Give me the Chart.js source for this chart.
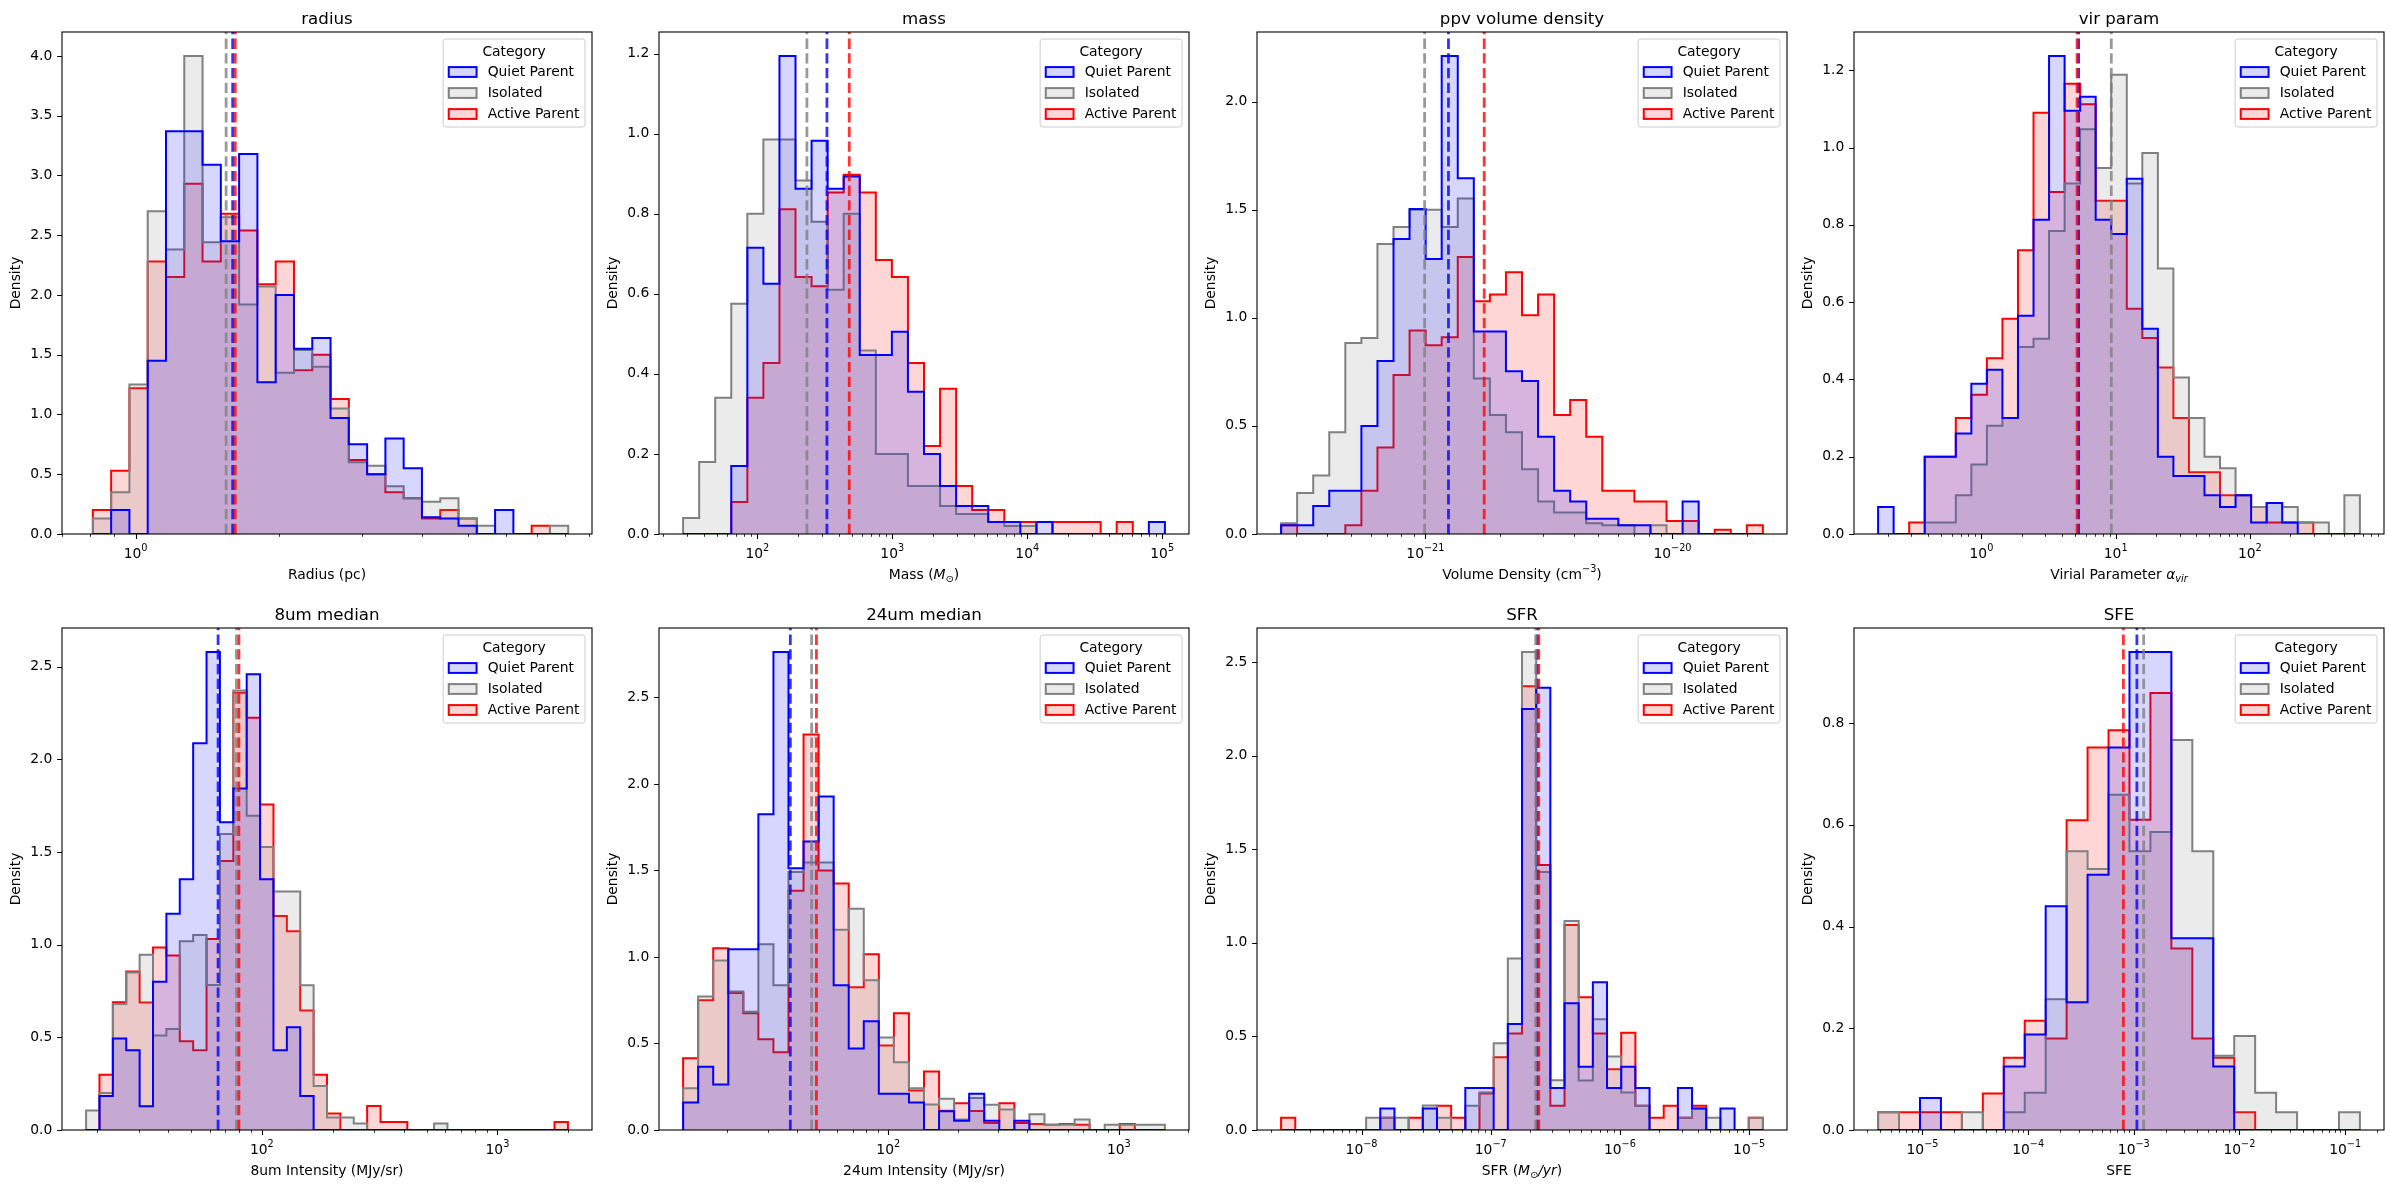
<!DOCTYPE html>
<html>
<head>
<meta charset="utf-8">
<title>Property distributions by category</title>
<script src="https://cdn.jsdelivr.net/npm/chart.js@4.4.1/dist/chart.umd.min.js"></script>
<style>
  html, body { margin: 0; padding: 0; background: #ffffff; }
  #figure { position: relative; width: 2390px; height: 1190px; overflow: hidden; background: #ffffff; }
  .panel { position: absolute; }
</style>
</head>
<body>
<div id="figure"></div>
<script>
Chart.defaults.font.family = '"DejaVu Sans", sans-serif';
Chart.defaults.font.size = 13.89;
Chart.defaults.color = "#000000";

const categories = ["Quiet Parent", "Isolated", "Active Parent"];
const lineColors = ["#0000ff", "#808080", "#ff0000"];
const fillColors = ["rgba(0,0,255,0.16)", "rgba(128,128,128,0.16)", "rgba(255,0,0,0.16)"];
const medianColors = ["rgba(0,0,255,0.8)", "rgba(128,128,128,0.8)", "rgba(255,0,0,0.8)"];

// each panel: log10 of the outer bin edges, density per bin (Quiet, Isolated, Active),
// medians (same order) and the powers of ten that get a tick label

// radius
const radiusBinRange = [-0.09, 0.91];
const radiusQuiet = [0, 0.2, 0, 1.45, 3.37, 3.37, 3.09, 2.45, 3.18, 1.27, 2.0, 1.55, 1.64, 0.97, 0.75, 0.5, 0.8, 0.55, 0.14, 0.13, 0.07, 0, 0.2, 0, 0, 0];
const radiusIsolated = [0.13, 0.35, 1.25, 2.7, 2.38, 4.0, 2.44, 2.65, 1.92, 2.07, 1.35, 1.54, 1.4, 1.05, 0.6, 0.57, 0.4, 0.3, 0.27, 0.3, 0.13, 0.07, 0, 0, 0, 0.07];
const radiusActive = [0.2, 0.53, 1.22, 2.28, 2.15, 2.93, 2.28, 2.68, 2.54, 2.09, 2.28, 1.37, 1.5, 1.13, 0.62, 0.5, 0.35, 0.3, 0.13, 0.2, 0.13, 0, 0, 0, 0.07, 0];
const radiusMedians = [1.60, 1.55, 1.62];
const radiusTicks = [0];

// mass
const massBinRange = [1.45, 5.02];
const massQuiet = [0, 0, 0, 0.17, 0.715, 0.625, 1.194, 0.862, 0.982, 0.862, 0.893, 0.447, 0.447, 0.505, 0.355, 0.2, 0.12, 0.07, 0.07, 0.03, 0.03, 0, 0.03, 0, 0, 0, 0, 0, 0, 0.03];
const massIsolated = [0.04, 0.18, 0.34, 0.575, 0.8, 0.985, 0.985, 0.883, 0.78, 0.61, 0.8, 0.458, 0.2, 0.2, 0.12, 0.12, 0.07, 0.05, 0.05, 0.03, 0.02, 0.02, 0, 0, 0, 0, 0, 0, 0, 0];
const massActive = [0, 0, 0, 0.08, 0.34, 0.427, 0.811, 0.642, 0.619, 0.853, 0.897, 0.853, 0.684, 0.642, 0.427, 0.22, 0.363, 0.12, 0.06, 0.06, 0.03, 0.03, 0, 0.03, 0.03, 0.03, 0, 0.03, 0, 0];
const massMedians = [328, 233, 480];
const massTicks = [2, 3, 4, 5];

// ppv volume density
const ppvBinRange = [-21.584, -19.634];
const ppvQuiet = [0.04, 0.04, 0.13, 0.2, 0.2, 0.5, 0.8, 1.364, 1.503, 1.272, 2.211, 1.645, 0.937, 0.937, 0.753, 0.707, 0.45, 0.2, 0.15, 0.07, 0.07, 0.04, 0.04, 0, 0, 0.15, 0, 0, 0, 0];
const ppvIsolated = [0.05, 0.19, 0.27, 0.47, 0.883, 0.907, 1.341, 1.42, 1.5, 1.5, 1.42, 1.552, 0.719, 0.55, 0.47, 0.3, 0.15, 0.1, 0.1, 0.05, 0.04, 0.04, 0, 0.04, 0, 0, 0, 0, 0, 0];
const ppvActive = [0.04, 0, 0, 0, 0.04, 0.2, 0.4, 0.735, 0.941, 0.873, 0.91, 1.281, 1.076, 1.108, 1.211, 1.012, 1.108, 0.55, 0.62, 0.45, 0.2, 0.2, 0.15, 0.15, 0.06, 0.06, 0, 0.02, 0, 0.04];
const ppvMedians = [1.24e-21, 9.93e-22, 1.73e-21];
const ppvTicks = [-21, -20];

// vir param
const virBinRange = [-0.77, 2.82];
const virQuiet = [0.07, 0, 0, 0.2, 0.2, 0.26, 0.389, 0.425, 0.3, 0.565, 0.813, 1.237, 1.095, 1.131, 0.813, 0.776, 0.919, 0.531, 0.2, 0.15, 0.15, 0.1, 0.07, 0.1, 0.03, 0.08, 0.03, 0, 0, 0, 0];
const virIsolated = [0, 0, 0, 0.03, 0.03, 0.1, 0.18, 0.28, 0.3, 0.484, 0.505, 0.784, 0.907, 1.047, 0.947, 1.188, 0.907, 0.986, 0.687, 0.405, 0.3, 0.2, 0.17, 0.1, 0.07, 0.08, 0.07, 0.03, 0.03, 0, 0.1];
const virActive = [0, 0, 0.03, 0.2, 0.2, 0.3, 0.36, 0.455, 0.557, 0.734, 1.09, 0.885, 1.165, 1.112, 0.862, 0.862, 0.583, 0.507, 0.431, 0.3, 0.16, 0.16, 0.1, 0.1, 0.07, 0.03, 0.03, 0.03, 0, 0, 0];
const virMedians = [5.3, 9.28, 5.16];
const virTicks = [0, 1, 2];

// 8um median
const um8BinRange = [1.254, 3.299];
const um8Quiet = [0, 0.184, 0.494, 0.43, 0.128, 0.8, 1.167, 1.353, 2.087, 2.58, 1.661, 1.843, 2.46, 1.353, 0.43, 0.554, 0.184, 0, 0, 0, 0, 0, 0, 0, 0, 0, 0, 0, 0, 0, 0, 0, 0, 0, 0, 0];
const um8Isolated = [0.105, 0.2, 0.68, 0.85, 0.946, 0.51, 0.545, 1.019, 1.052, 0.783, 1.597, 2.372, 1.696, 1.527, 1.287, 1.287, 0.781, 0.238, 0.068, 0.068, 0.035, 0, 0, 0, 0, 0, 0.035, 0, 0, 0, 0, 0, 0, 0, 0, 0];
const um8Active = [0, 0.298, 0.69, 0.855, 0.688, 0.985, 0.942, 0.479, 0.43, 1.031, 1.452, 2.36, 2.225, 1.756, 1.155, 1.072, 0.645, 0.298, 0.089, 0, 0, 0.13, 0.043, 0.043, 0, 0, 0, 0, 0, 0, 0, 0, 0, 0, 0, 0.043];
const um8Medians = [65.2, 78.0, 79.9];
const um8Ticks = [2, 3];

// 24um median
const um24BinRange = [1.11, 3.2];
const um24Quiet = [0.159, 0.365, 0.263, 1.044, 1.044, 1.825, 2.763, 1.513, 1.668, 1.927, 0.836, 0.471, 0.628, 0.21, 0.21, 0.159, 0, 0.108, 0.053, 0.21, 0.053, 0, 0.053, 0, 0, 0, 0, 0, 0, 0, 0, 0];
const um24Isolated = [0.241, 0.772, 0.98, 0.8, 0.684, 1.073, 0.836, 1.491, 1.546, 1.546, 1.157, 1.279, 0.865, 0.535, 0.392, 0.241, 0.148, 0.181, 0.06, 0.185, 0.146, 0.119, 0, 0.091, 0.03, 0.03, 0.06, 0, 0.03, 0.03, 0.03, 0.03];
const um24Active = [0.414, 0.75, 1.051, 0.792, 0.675, 0.524, 0.449, 1.383, 2.285, 1.5, 1.425, 0.825, 1.015, 0.489, 0.675, 0.228, 0.338, 0.111, 0.155, 0.11, 0.04, 0.155, 0.04, 0.035, 0.03, 0.035, 0.03, 0, 0, 0.035, 0, 0];
const um24Medians = [37.6, 46.5, 48.8];
const um24Ticks = [2, 3];

// SFR
const sfrBinRange = [-8.623, -4.893];
const sfrQuiet = [0, 0, 0, 0, 0, 0, 0, 0.115, 0, 0, 0.115, 0, 0, 0.225, 0.225, 0, 0.566, 2.25, 2.363, 0.225, 0.678, 0.338, 0.789, 0.225, 0.338, 0.225, 0, 0, 0.225, 0.115, 0, 0.115, 0, 0];
const sfrIsolated = [0, 0, 0, 0, 0, 0, 0.065, 0.065, 0.065, 0, 0.131, 0.065, 0, 0.13, 0.2, 0.463, 0.916, 2.555, 1.379, 0.266, 1.117, 0.264, 0.592, 0.393, 0.2, 0.13, 0, 0, 0.065, 0.115, 0.065, 0, 0, 0.065];
const sfrActive = [0.066, 0, 0, 0, 0, 0, 0, 0.065, 0, 0.065, 0, 0.13, 0.065, 0, 0.195, 0.389, 0.516, 2.371, 1.416, 0.13, 1.096, 0.709, 0.516, 0.324, 0.52, 0.13, 0.065, 0.13, 0.065, 0.13, 0, 0, 0, 0.065];
const sfrMedians = [2.29e-7, 2.23e-7, 2.355e-7];
const sfrTicks = [-8, -7, -6, -5];

// SFE
const sfeBinRange = [-5.42, -0.86];
const sfeQuiet = [0, 0, 0.063, 0, 0, 0, 0.125, 0.188, 0.44, 0.251, 0.502, 0.752, 0.94, 0.94, 0.377, 0.377, 0.125, 0, 0, 0, 0, 0, 0];
const sfeIsolated = [0.035, 0, 0, 0, 0.035, 0, 0.035, 0.073, 0.257, 0.548, 0.513, 0.659, 0.548, 0.586, 0.767, 0.548, 0.146, 0.185, 0.073, 0.035, 0, 0, 0.035];
const sfeActive = [0.035, 0.035, 0.035, 0.035, 0, 0.072, 0.142, 0.215, 0.18, 0.609, 0.752, 0.786, 0.61, 0.859, 0.357, 0.18, 0.142, 0.035, 0, 0, 0, 0, 0];
const sfeMedians = [1.07e-3, 1.24e-3, 7.97e-4];
const sfeTicks = [-5, -4, -3, -2, -1];

// axis labels as [text, style] runs: "it" italic, "sub"/"sup" scripts
const radiusLabel = [["Radius (pc)"]];
const massLabel = [["Mass ("], ["M", "it"], ["\u2299", "sub"], [")"]];
const ppvLabel = [["Volume Density (cm"], ["\u22123", "sup"], [")"]];
const virLabel = [["Virial Parameter "], ["\u03B1", "it"], ["vir", "itsub"]];
const um8Label = [["8um Intensity (MJy/sr)"]];
const um24Label = [["24um Intensity (MJy/sr)"]];
const sfrLabel = [["SFR ("], ["M", "it"], ["\u2299", "sub"], ["/yr", "it"], [")"]];
const sfeLabel = [["SFE"]];

const panels = [
  { title: "radius", xLabel: radiusLabel, range: radiusBinRange, series: [radiusQuiet, radiusIsolated, radiusActive], medians: radiusMedians, ticks: radiusTicks, yStep: 0.5 },
  { title: "mass", xLabel: massLabel, range: massBinRange, series: [massQuiet, massIsolated, massActive], medians: massMedians, ticks: massTicks, yStep: 0.2 },
  { title: "ppv volume density", xLabel: ppvLabel, range: ppvBinRange, series: [ppvQuiet, ppvIsolated, ppvActive], medians: ppvMedians, ticks: ppvTicks, yStep: 0.5 },
  { title: "vir param", xLabel: virLabel, range: virBinRange, series: [virQuiet, virIsolated, virActive], medians: virMedians, ticks: virTicks, yStep: 0.2 },
  { title: "8um median", xLabel: um8Label, range: um8BinRange, series: [um8Quiet, um8Isolated, um8Active], medians: um8Medians, ticks: um8Ticks, yStep: 0.5 },
  { title: "24um median", xLabel: um24Label, range: um24BinRange, series: [um24Quiet, um24Isolated, um24Active], medians: um24Medians, ticks: um24Ticks, yStep: 0.5 },
  { title: "SFR", xLabel: sfrLabel, range: sfrBinRange, series: [sfrQuiet, sfrIsolated, sfrActive], medians: sfrMedians, ticks: sfrTicks, yStep: 0.5 },
  { title: "SFE", xLabel: sfeLabel, range: sfeBinRange, series: [sfeQuiet, sfeIsolated, sfeActive], medians: sfeMedians, ticks: sfeTicks, yStep: 0.2 },
];

// figure layout (pixels)
const frameLeft = [62, 659, 1257, 1854];
const frameTop = [32, 628];
const plotWidth = 530;
const plotHeight = 502;
const yAxisWidth = 62;
const xAxisHeight = 56;

const FONT = '"DejaVu Sans", sans-serif';
const BASE = 13.89;
const SMALL = 9.72;

function binEdges(range, count) {
  const step = (range[1] - range[0]) / count;
  const edges = [];
  for (let i = 0; i <= count; i++) {
    edges.push(Math.pow(10, range[0] + i * step));
  }
  return edges;
}

// outline of a step histogram, starting and ending on the baseline
function stepOutline(edges, heights) {
  const points = [{ x: edges[0], y: 0 }];
  heights.forEach((h, i) => points.push({ x: edges[i], y: h }));
  points.push({ x: edges[heights.length], y: 0 });
  return points;
}

function roundedRect(ctx, x, y, w, h, r) {
  ctx.beginPath();
  ctx.moveTo(x + r, y);
  ctx.lineTo(x + w - r, y);
  ctx.arcTo(x + w, y, x + w, y + r, r);
  ctx.lineTo(x + w, y + h - r);
  ctx.arcTo(x + w, y + h, x + w - r, y + h, r);
  ctx.lineTo(x + r, y + h);
  ctx.arcTo(x, y + h, x, y + h - r, r);
  ctx.lineTo(x, y + r);
  ctx.arcTo(x, y, x + r, y, r);
  ctx.closePath();
}

function runFont(style) {
  const italic = style && style.indexOf("it") === 0 ? "italic " : "";
  const small = style && (style.endsWith("sub") || style.endsWith("sup"));
  return italic + (small ? SMALL : BASE) + "px " + FONT;
}

function runShift(style) {
  if (style && style.endsWith("sub")) return 2.6;
  if (style && style.endsWith("sup")) return -6.9;
  return 0;
}

// draws text runs centred on cx, with the normal text sitting on baseline y
function drawRuns(ctx, runs, cx, y) {
  let total = 0;
  runs.forEach(([t, s]) => {
    ctx.font = runFont(s);
    total += ctx.measureText(t).width;
  });
  let x = cx - total / 2;
  ctx.textAlign = "left";
  ctx.textBaseline = "alphabetic";
  runs.forEach(([t, s]) => {
    ctx.font = runFont(s);
    ctx.fillText(t, x, y + runShift(s));
    x += ctx.measureText(t).width;
  });
}

// spines, ticks, tick labels on the log axis, x label and subplot title
const framePlugin = {
  id: "frame",
  afterDraw(chart, args, opts) {
    const { ctx, chartArea: a } = chart;
    const xs = chart.scales.x;
    const ys = chart.scales.y;
    ctx.save();
    ctx.strokeStyle = "#000000";

    ctx.lineWidth = 0.83;
    ctx.beginPath();
    const d0 = Math.floor(Math.log10(xs.min));
    const d1 = Math.ceil(Math.log10(xs.max));
    for (let d = d0; d <= d1; d++) {
      for (let m = 2; m <= 9; m++) {
        const v = m * Math.pow(10, d);
        if (v < xs.min || v > xs.max) continue;
        const px = Math.round(xs.getPixelForValue(v)) + 0.5;
        ctx.moveTo(px, a.bottom);
        ctx.lineTo(px, a.bottom + 2.8);
      }
    }
    ctx.stroke();

    ctx.lineWidth = 1.1;
    ctx.beginPath();
    xs.ticks.forEach((t) => {
      const px = Math.round(xs.getPixelForValue(t.value)) + 0.5;
      ctx.moveTo(px, a.bottom);
      ctx.lineTo(px, a.bottom + 4.9);
    });
    ys.ticks.forEach((t) => {
      const py = Math.round(ys.getPixelForValue(t.value)) + 0.5;
      ctx.moveTo(a.left, py);
      ctx.lineTo(a.left - 4.9, py);
    });
    ctx.stroke();
    ctx.strokeRect(a.left, a.top, a.right - a.left, a.bottom - a.top);

    ctx.fillStyle = "#000000";
    xs.ticks.forEach((t) => {
      const px = xs.getPixelForValue(t.value);
      const exponent = String(Math.round(Math.log10(t.value))).replace("-", "\u2212");
      drawRuns(ctx, [["10"], [exponent, "sup"]], px, a.bottom + 24.3);
    });

    drawRuns(ctx, opts.xLabel, (a.left + a.right) / 2, a.bottom + 45);

    ctx.font = "16.67px " + FONT;
    ctx.textAlign = "center";
    ctx.textBaseline = "alphabetic";
    ctx.fillText(opts.title, (a.left + a.right) / 2, a.top - 8.3);
    ctx.restore();
  },
};

// "Category" legend in the upper right corner of each panel
const legendPlugin = {
  id: "categoryLegend",
  afterDraw(chart) {
    const { ctx, chartArea: a } = chart;
    ctx.save();
    ctx.font = BASE + "px " + FONT;
    const textWidth = Math.max(...categories.map((c) => ctx.measureText(c).width));
    const handle = 27.8;
    const w = 5.6 + handle + 11.1 + textWidth + 5.6;
    const h = 88;
    const bx = a.right - 7 - w;
    const by = a.top + 7;

    roundedRect(ctx, bx, by, w, h, 2.8);
    ctx.fillStyle = "rgba(255,255,255,0.8)";
    ctx.fill();
    ctx.strokeStyle = "#cccccc";
    ctx.lineWidth = 1;
    ctx.stroke();

    ctx.fillStyle = "#000000";
    ctx.textBaseline = "middle";
    ctx.textAlign = "center";
    ctx.fillText("Category", bx + w / 2, by + 13);

    categories.forEach((c, k) => {
      const cy = by + 33 + 21 * k;
      const hx = bx + 5.6;
      ctx.fillStyle = "#ffffff";
      ctx.fillRect(hx, cy - 4.9, handle, 9.8);
      ctx.fillStyle = fillColors[k];
      ctx.fillRect(hx, cy - 4.9, handle, 9.8);
      ctx.strokeStyle = lineColors[k];
      ctx.lineWidth = 2;
      ctx.strokeRect(hx, cy - 4.9, handle, 9.8);
      ctx.fillStyle = "#000000";
      ctx.textAlign = "left";
      ctx.fillText(c, hx + handle + 11.1, cy);
    });
    ctx.restore();
  },
};

function buildConfig(p) {
  const edges = binEdges(p.range, p.series[0].length);
  const yMax = 1.05 * Math.max(...p.series.flat());
  const span = p.range[1] - p.range[0];
  const xMin = Math.pow(10, p.range[0] - 0.05 * span);
  const xMax = Math.pow(10, p.range[1] + 0.05 * span);

  // medians first so they end up on top, Active Parent outline drawn first
  const medianSets = [2, 1, 0].map((k) => ({
    data: [{ x: p.medians[k], y: 0 }, { x: p.medians[k], y: yMax }],
    borderColor: medianColors[k],
    borderWidth: 2.8,
    borderDash: [10.3, 4.4],
    pointRadius: 0,
    fill: false,
  }));
  const histSets = [0, 1, 2].map((k) => ({
    label: categories[k],
    data: stepOutline(edges, p.series[k]),
    stepped: "before",
    borderColor: lineColors[k],
    backgroundColor: fillColors[k],
    borderWidth: 2,
    pointRadius: 0,
    fill: "origin",
  }));

  return {
    type: "line",
    data: { datasets: [...medianSets, ...histSets] },
    options: {
      responsive: true,
      maintainAspectRatio: false,
      animation: false,
      events: [],
      layout: { autoPadding: false, padding: { top: 32, right: 4, bottom: 4, left: 0 } },
      plugins: {
        legend: { display: false },
        tooltip: { enabled: false },
        frame: { title: p.title, xLabel: p.xLabel },
      },
      scales: {
        x: {
          type: "logarithmic",
          min: xMin,
          max: xMax,
          grid: { display: false, drawTicks: false },
          border: { display: false },
          afterBuildTicks: (scale) => {
            scale.ticks = p.ticks.map((e) => ({ value: Math.pow(10, e) }));
          },
          afterFit: (scale) => { scale.height = xAxisHeight; },
          ticks: { display: false, autoSkip: false, maxRotation: 0 },
        },
        y: {
          type: "linear",
          min: 0,
          max: yMax,
          grid: { display: false, drawTicks: false },
          border: { display: false },
          afterBuildTicks: (scale) => {
            const ticks = [];
            for (let v = 0; v <= yMax + 1e-9; v = +(v + p.yStep).toFixed(6)) ticks.push({ value: v });
            scale.ticks = ticks;
          },
          afterFit: (scale) => { scale.width = yAxisWidth; },
          ticks: { padding: 9.7, callback: (v) => v.toFixed(1) },
          title: { display: true, text: "Density", padding: { top: 8.2, bottom: 0 } },
        },
      },
    },
    plugins: [framePlugin, legendPlugin],
  };
}

const figure = document.getElementById("figure");

panels.forEach((p, i) => {
  const col = i % 4;
  const row = Math.floor(i / 4);
  const cell = document.createElement("div");
  cell.className = "panel";
  cell.style.left = frameLeft[col] - yAxisWidth + "px";
  cell.style.top = frameTop[row] - 32 + "px";
  cell.style.width = yAxisWidth + plotWidth + 4 + "px";
  cell.style.height = 32 + plotHeight + xAxisHeight + 4 + "px";
  const canvas = document.createElement("canvas");
  cell.appendChild(canvas);
  figure.appendChild(cell);
  new Chart(canvas, buildConfig(p));
});
</script>
</body>
</html>
